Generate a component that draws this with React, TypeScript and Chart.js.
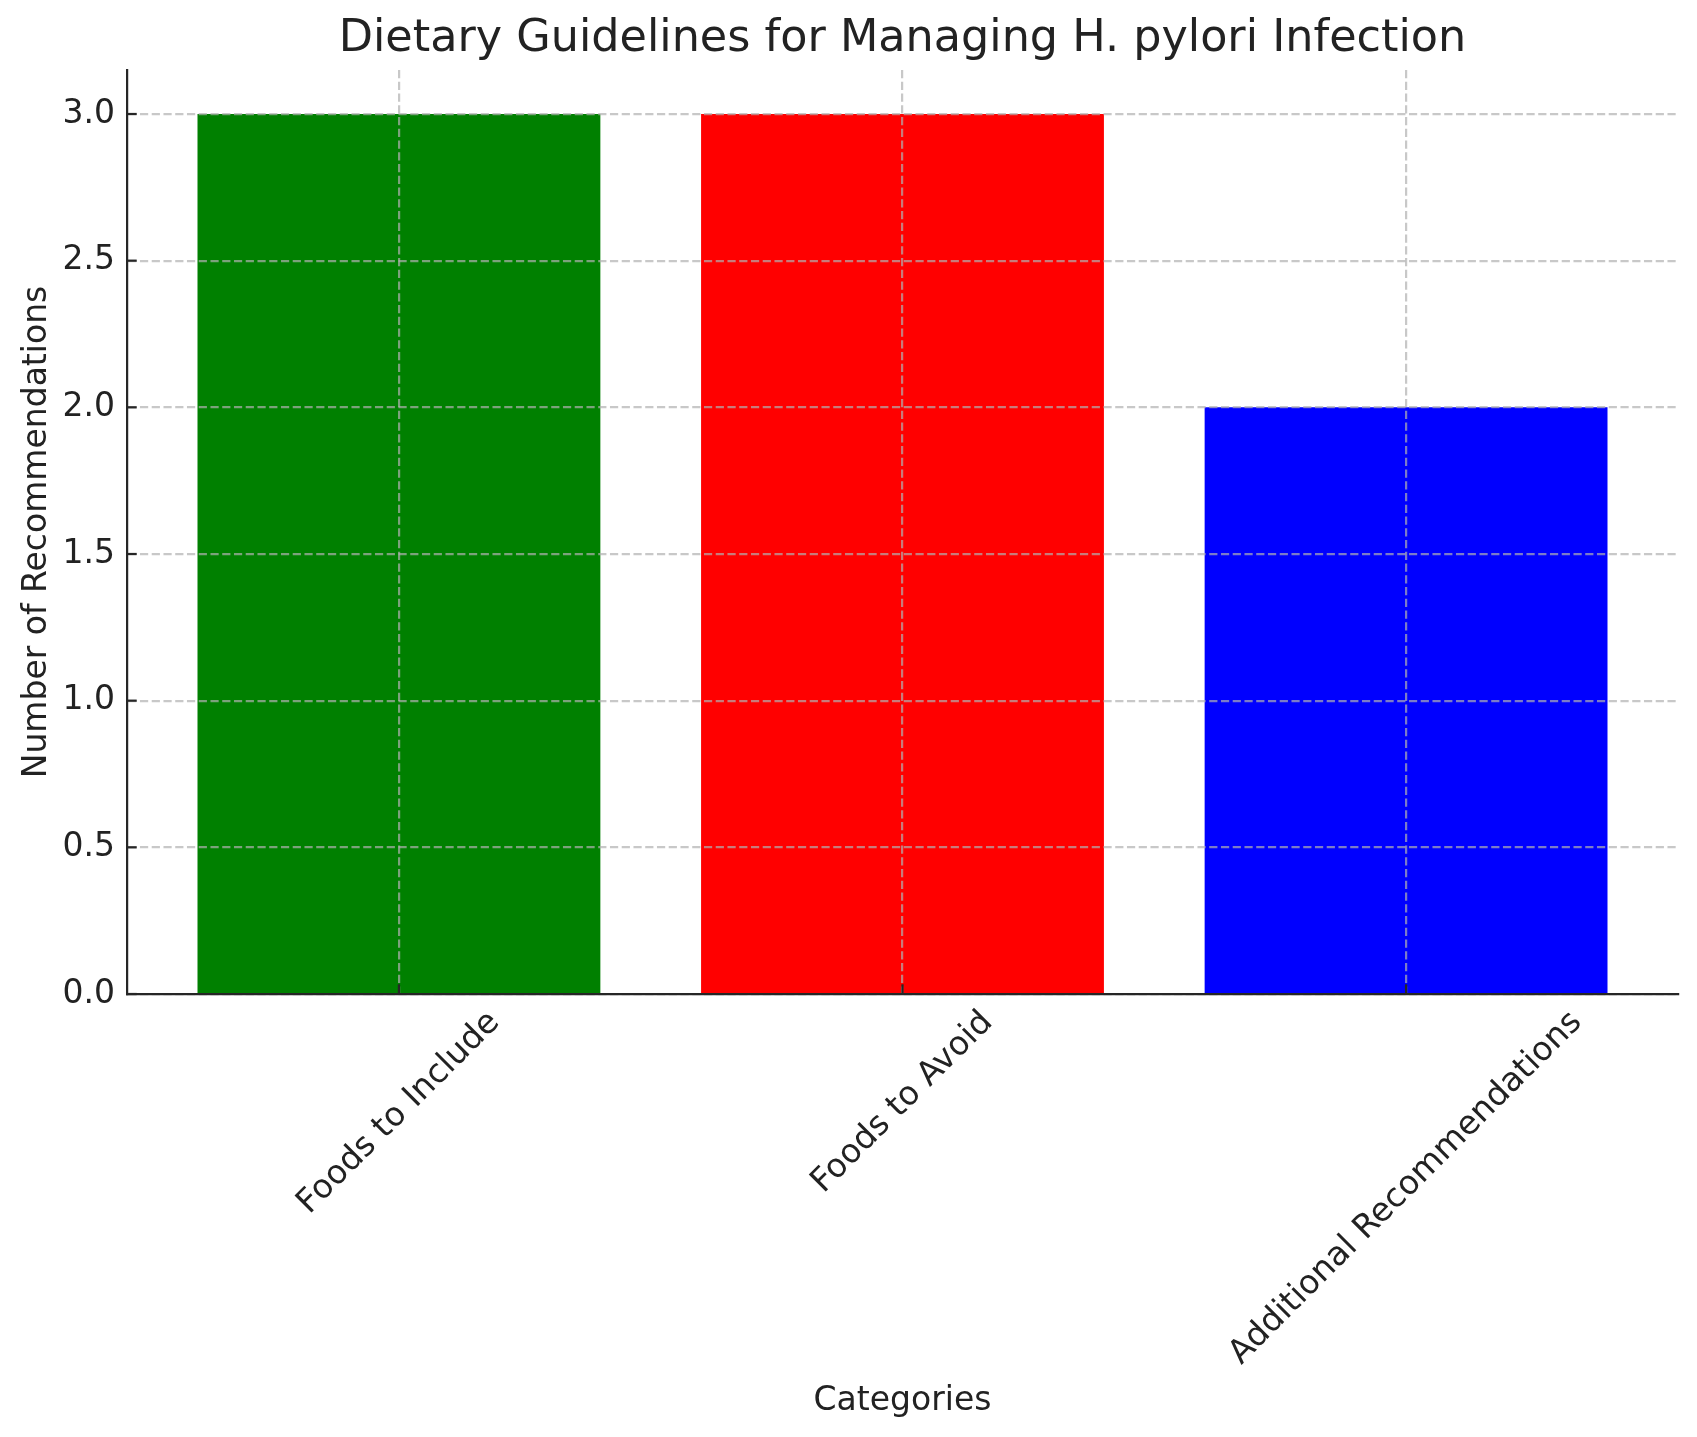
import React, { useEffect, useRef } from "react";
import { Chart, registerables } from "chart.js";

Chart.register(...registerables);

const categories = ["Foods to Include", "Foods to Avoid", "Additional Recommendations"];
const counts = [3, 3, 2];
const barColors = ["#008000", "#ff0000", "#0000ff"];
const yTickValues = [0, 0.5, 1.0, 1.5, 2.0, 2.5, 3.0];
const titleText = "Dietary Guidelines for Managing H. pylori Infection";
const xTitle = "Categories";
const yTitle = "Number of Recommendations";

const FONT = "DejaVu Sans";
const TEXT = "#222222";
const SPINE = "#262626";
const GRID = "rgba(176,176,176,0.7)";
const PX_PER_PT = 200 / 72;

export default function App() {
  const ref = useRef<HTMLCanvasElement | null>(null);

  useEffect(() => {
    const canvas = ref.current;
    if (!canvas) return;

    const tickLen = 3.5 * PX_PER_PT;
    const tickPad = 3.5 * PX_PER_PT;
    const lw = 0.8 * PX_PER_PT;

    const customAxes = {
      id: "customAxes",
      afterDraw(chart: any) {
        const ctx = chart.ctx;
        const xs = chart.scales.x;
        const ys = chart.scales.y;
        const area = chart.chartArea;
        ctx.save();
        // inward tick marks
        ctx.strokeStyle = SPINE;
        ctx.lineWidth = lw;
        ctx.setLineDash([]);
        yTickValues.forEach((v) => {
          const y = ys.getPixelForValue(v);
          ctx.beginPath();
          ctx.moveTo(area.left, y);
          ctx.lineTo(area.left + tickLen, y);
          ctx.stroke();
        });
        categories.forEach((_, i) => {
          const x = xs.getPixelForValue(i);
          ctx.beginPath();
          ctx.moveTo(x, area.bottom);
          ctx.lineTo(x, area.bottom - tickLen);
          ctx.stroke();
        });
        // rotated category labels, centered under ticks (matplotlib-like)
        const fs = 33;
        ctx.font = `${fs}px "${FONT}"`;
        ctx.fillStyle = TEXT;
        ctx.textAlign = "center";
        ctx.textBaseline = "middle";
        const s = Math.SQRT1_2;
        const h = fs * 1.164;
        categories.forEach((label, i) => {
          const x = xs.getPixelForValue(i);
          const w = ctx.measureText(label).width;
          const cy = area.bottom + tickPad + ((w + h) * s) / 2;
          ctx.save();
          ctx.translate(x, cy);
          ctx.rotate(-Math.PI / 4);
          ctx.fillText(label, 0, 0);
          ctx.restore();
        });
        ctx.restore();
      },
    };

    const chart = new Chart(canvas, {
      type: "bar",
      data: {
        datasets: [
          {
            data: categories.map((_, i) => ({ x: i, y: counts[i] })),
            backgroundColor: barColors,
            borderWidth: 0,
            barPercentage: 0.8,
            categoryPercentage: 1.0,
          },
        ],
      },
      options: {
        animation: false,
        responsive: false,
        devicePixelRatio: 1,
        layout: { padding: { left: 0, right: 19, top: 0, bottom: 0 } },
        plugins: {
          legend: { display: false },
          tooltip: { enabled: false },
          title: {
            display: true,
            text: titleText,
            fullSize: false,
            color: TEXT,
            font: { family: FONT, size: 44.5, weight: "normal" },
            padding: { top: 13, bottom: 3.6 },
          },
        },
        scales: {
          x: {
            type: "linear",
            min: -0.54,
            max: 2.54,
            offset: false,
            afterBuildTicks: (scale: any) => {
              scale.ticks = categories.map((_, i) => ({ value: i }));
            },
            afterFit: (scale: any) => {
              scale.height = 443;
            },
            ticks: { display: false },
            grid: {
              offset: false,
              color: GRID,
              lineWidth: lw,
              drawTicks: false,
              z: 1,
            },
            border: { display: true, color: SPINE, width: lw, dash: [8.2, 3.55], z: 2 },
            title: {
              display: true,
              text: xTitle,
              color: TEXT,
              font: { family: FONT, size: 33 },
              padding: { top: 0, bottom: 16 },
            },
          },
          y: {
            type: "linear",
            min: 0,
            max: 3.15,
            afterBuildTicks: (scale: any) => {
              scale.ticks = yTickValues.map((v) => ({ value: v }));
            },
            afterFit: (scale: any) => {
              scale.width = 127;
            },
            ticks: {
              color: TEXT,
              font: { family: FONT, size: 33 },
              padding: 12,
              callback: (v: any) => Number(v).toFixed(1),
            },
            grid: {
              color: GRID,
              lineWidth: lw,
              drawTicks: false,
              z: 1,
            },
            border: { display: true, color: SPINE, width: lw, dash: [8.2, 3.55], z: 2 },
            title: {
              display: true,
              text: yTitle,
              color: TEXT,
              font: { family: FONT, size: 33 },
              padding: { top: 18, bottom: 0 },
            },
          },
        },
      },
      plugins: [customAxes],
    } as any);

    return () => chart.destroy();
  }, []);

  return (
    <div style={{ position: "absolute", left: 0, top: 0, width: 1697, height: 1437, background: "#fff" }}>
      <canvas ref={ref} width={1697} height={1437} style={{ display: "block", width: 1697, height: 1437 }} />
    </div>
  );
}
